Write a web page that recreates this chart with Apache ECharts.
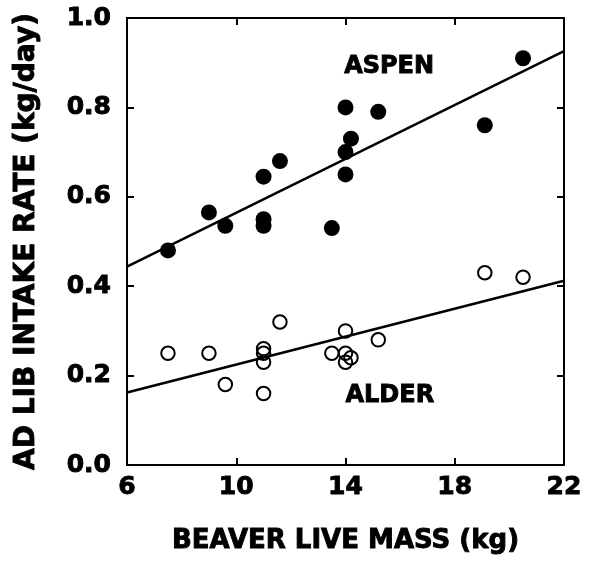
<!DOCTYPE html>
<html>
<head>
<meta charset="utf-8">
<script src="https://cdn.jsdelivr.net/npm/echarts@6/dist/echarts.min.js"></script>
<style>
html,body{margin:0;padding:0;background:#fff;}
#chart{width:590px;height:563px;}
</style>
</head>
<body>
<div id="chart"></div>
<script>
// Data
var aspenMass   = [7.5, 9.0, 9.6, 11.0, 11.0, 11.0, 11.6, 13.5, 14.0, 14.0, 14.0, 14.2, 15.2, 19.1, 20.5];
var aspenIntake = [0.48, 0.565, 0.535, 0.55, 0.535, 0.645, 0.68, 0.53, 0.65, 0.70, 0.80, 0.73, 0.79, 0.76, 0.91];

var alderMass   = [7.5, 9.0, 9.6, 11.0, 11.0, 11.0, 11.0, 11.6, 13.5, 14.0, 14.0, 14.0, 14.2, 15.2, 19.1, 20.5];
var alderIntake = [0.25, 0.25, 0.18, 0.26, 0.25, 0.23, 0.16, 0.32, 0.25, 0.30, 0.25, 0.23, 0.24, 0.28, 0.43, 0.42];

var fitMass        = [6, 22];
var aspenFitIntake = [0.444, 0.926];
var alderFitIntake = [0.162, 0.412];

var xTicks = [6, 10, 14, 18, 22];
var yTicks = [0.0, 0.2, 0.4, 0.6, 0.8, 1.0];

var seriesLabels = ['ASPEN', 'ALDER'];
var labelAnchors = [[13.95, 0.89], [14.0, 0.155]];

function pairs(xs, ys) { return xs.map(function (x, i) { return [x, ys[i]]; }); }

var FONT = 'DejaVu Sans';
var INK = '#000';
var heavy = {textBorderColor: INK, textBorderWidth: 0.9};

var chart = echarts.init(document.getElementById('chart'), null, {renderer: 'canvas'});

var axisCommon = {
  axisLine: {show: true, onZero: false, lineStyle: {color: INK, width: 2}},
  axisTick: {show: true, inside: true, length: 7, lineStyle: {color: INK, width: 2}},
  splitLine: {show: false}
};

function labelMark(text, coord) {
  return {
    symbol: 'circle', symbolSize: 0, silent: true,
    data: [{coord: coord, value: text}],
    label: Object.assign({
      show: true, position: 'right', distance: 0,
      formatter: text,
      fontFamily: FONT, fontWeight: 'bold', fontSize: 24, color: INK
    }, heavy)
  };
}

chart.setOption({
  animation: false,
  backgroundColor: '#fff',
  grid: {left: 127, right: 26, top: 18, bottom: 98, containLabel: false},
  xAxis: [
    Object.assign({}, axisCommon, {
      type: 'value', position: 'bottom', min: xTicks[0], max: xTicks[xTicks.length - 1], interval: 4,
      axisLabel: Object.assign({show: true, margin: 10, fontFamily: FONT, fontWeight: 'bold', fontSize: 25, color: INK}, heavy),
      name: 'BEAVER LIVE MASS (kg)', nameLocation: 'middle', nameGap: 63,
      nameTextStyle: Object.assign({fontFamily: FONT, fontWeight: 'bold', fontSize: 26, color: INK}, heavy)
    }),
    Object.assign({}, axisCommon, {
      type: 'value', position: 'top', min: xTicks[0], max: xTicks[xTicks.length - 1], interval: 4,
      axisLabel: {show: false}
    })
  ],
  yAxis: [
    Object.assign({}, axisCommon, {
      type: 'value', position: 'left', min: yTicks[0], max: yTicks[yTicks.length - 1], interval: 0.2,
      axisLabel: Object.assign({show: true, margin: 16, fontFamily: FONT, fontWeight: 'bold', fontSize: 25, color: INK,
        formatter: function (v) { return v.toFixed(1); }}, heavy),
      name: 'AD LIB INTAKE RATE (kg/day)', nameLocation: 'middle', nameGap: 86, nameRotate: 90,
      nameTextStyle: Object.assign({fontFamily: FONT, fontWeight: 'bold', fontSize: 28, color: INK}, heavy)
    }),
    Object.assign({}, axisCommon, {
      type: 'value', position: 'right', min: yTicks[0], max: yTicks[yTicks.length - 1], interval: 0.2,
      axisLabel: {show: false}
    })
  ],
  series: [
    {
      type: 'line', name: 'aspenFit', data: pairs(fitMass, aspenFitIntake),
      symbol: 'none', lineStyle: {color: INK, width: 2.5}, z: 2,
      markPoint: labelMark(seriesLabels[0], labelAnchors[0])
    },
    {
      type: 'line', name: 'alderFit', data: pairs(fitMass, alderFitIntake),
      symbol: 'none', lineStyle: {color: INK, width: 2.5}, z: 2,
      markPoint: labelMark(seriesLabels[1], labelAnchors[1])
    },
    {
      type: 'scatter', name: 'ASPEN', data: pairs(aspenMass, aspenIntake),
      symbol: 'circle', symbolSize: 16, itemStyle: {color: INK, opacity: 1}, z: 3
    },
    {
      type: 'scatter', name: 'ALDER', data: pairs(alderMass, alderIntake),
      symbol: 'circle', symbolSize: 13.5,
      itemStyle: {color: 'rgba(255,255,255,0)', borderColor: INK, borderWidth: 2, opacity: 1}, z: 3
    }
  ]
});
</script>
</body>
</html>
